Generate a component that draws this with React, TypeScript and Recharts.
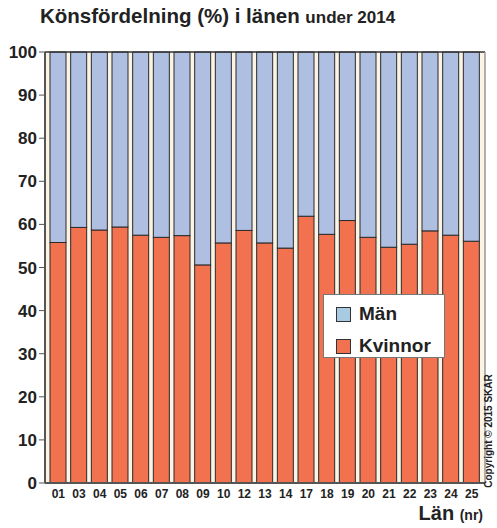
import React from "react";
import {
  BarChart,
  Bar,
  XAxis,
  YAxis,
  CartesianGrid,
  ReferenceLine,
} from "recharts";

// Län codes along the x axis
const lanCodes = [
  "01", "03", "04", "05", "06", "07", "08", "09", "10", "12", "13",
  "14", "17", "18", "19", "20", "21", "22", "23", "24", "25",
];

// Share of women (%) per län
const kvinnor = [
  55.8, 59.3, 58.7, 59.4, 57.5, 57.0, 57.4, 50.6, 55.7, 58.6, 55.7,
  54.5, 61.9, 57.7, 60.9, 57.0, 54.7, 55.4, 58.5, 57.5, 56.1,
];

// Share of men (%) per län
const man = [
  44.2, 40.7, 41.3, 40.6, 42.5, 43.0, 42.6, 49.4, 44.3, 41.4, 44.3,
  45.5, 38.1, 42.3, 39.1, 43.0, 45.3, 44.6, 41.5, 42.5, 43.9,
];

const yTicks = [0, 10, 20, 30, 40, 50, 60, 70, 80, 90, 100];

const data = lanCodes.map((lan, i) => ({
  lan,
  Kvinnor: kvinnor[i],
  Män: man[i],
}));

const FONT = "'Liberation Sans', Arial, sans-serif";
const RED = "#F2714F";
const BLUE = "#AFBFE2";
const CREAM = "#FBF3E3";
const TEXT = "#222";

// Bar segment with a dark outline, like the original print style
const EdgedBar = (props: any) => {
  const { x, y, width, height, fill } = props;
  if (!height || height <= 0) return null;
  return (
    <g>
      <rect x={x} y={y} width={width} height={height} fill={fill} />
      <rect
        x={x}
        y={y}
        width={width}
        height={height}
        fill="none"
        stroke="#2a2a2a"
        strokeWidth={1}
      />
    </g>
  );
};

const legendItems = [
  { name: "Män", color: "#A9CBE2" },
  { name: "Kvinnor", color: RED },
];

const LegendBox = () => (
  <div
    style={{
      position: "absolute",
      left: 323,
      top: 294,
      background: "#fff",
      border: "1px solid #777",
      width: 122,
      height: 64,
      boxSizing: "border-box",
      padding: "7px 0 0 12px",
      fontFamily: FONT,
      fontWeight: "bold",
      fontSize: 19,
      color: TEXT,
    }}
  >
    {legendItems.map((item) => (
      <div
        key={item.name}
        style={{ display: "flex", alignItems: "center", height: 24, marginBottom: 8 }}
      >
        <span
          style={{
            display: "inline-block",
            width: 13,
            height: 13,
            background: item.color,
            border: "1px solid #333",
            marginRight: 8,
          }}
        />
        {item.name}
      </div>
    ))}
  </div>
);

export default function App() {
  return (
    <div
      style={{
        position: "absolute",
        left: 0,
        top: 0,
        width: 497,
        height: 528,
        background: "#fff",
        fontFamily: FONT,
        color: TEXT,
      }}
    >
      <div
        style={{
          position: "absolute",
          left: 40,
          top: 4,
          fontWeight: "bold",
          fontSize: 20.5,
          whiteSpace: "nowrap",
        }}
      >
        Könsfördelning (%) i länen <span style={{ fontSize: 17 }}>under 2014</span>
      </div>

      <BarChart
        width={497}
        height={528}
        data={data}
        barSize={16}
        margin={{ top: 52, right: 0, left: 0, bottom: 20 }}
      >
        <CartesianGrid
          fill={CREAM}
          horizontal={false}
          vertical={false}
          stroke="none"
        />
        <XAxis
          dataKey="lan"
          padding={{ left: 3, right: 3 }}
          tickLine={false}
          axisLine={{ stroke: "#555", strokeWidth: 2 }}
          tick={{ fill: TEXT, fontSize: 12, fontWeight: "bold", fontFamily: FONT }}
          interval={0}
          height={25}
          tickMargin={0}
        />
        <YAxis
          domain={[0, 100]}
          ticks={yTicks}
          width={45}
          tickSize={6}
          tickMargin={2}
          tickLine={{ stroke: "#555" }}
          axisLine={{ stroke: "#555", strokeWidth: 2 }}
          tick={{ fill: TEXT, fontSize: 17, fontWeight: "bold", fontFamily: FONT }}
          interval={0}
        />
        <YAxis
          yAxisId="frame"
          orientation="right"
          width={12}
          tick={false}
          tickLine={false}
          axisLine={{ stroke: "#999", strokeWidth: 1.5 }}
        />
        <Bar
          dataKey="Kvinnor"
          stackId="kon"
          fill={RED}
          shape={EdgedBar}
          isAnimationActive={false}
        />
        <Bar
          dataKey="Män"
          stackId="kon"
          fill={BLUE}
          shape={EdgedBar}
          isAnimationActive={false}
        />
        <ReferenceLine y={100} stroke="#333" strokeWidth={1.5} />
      </BarChart>

      <LegendBox />

      <div
        style={{
          position: "absolute",
          right: 14,
          top: 502,
          fontWeight: "bold",
          fontSize: 20,
          whiteSpace: "nowrap",
        }}
      >
        Län <span style={{ fontSize: 14 }}>(nr)</span>
      </div>

      <div
        style={{
          position: "absolute",
          left: 488,
          top: 431,
          transform: "translate(-50%, -50%) rotate(-90deg)",
          fontWeight: "bold",
          fontSize: 10,
          whiteSpace: "nowrap",
        }}
      >
        Copyright © 2015 SKAR
      </div>
    </div>
  );
}
